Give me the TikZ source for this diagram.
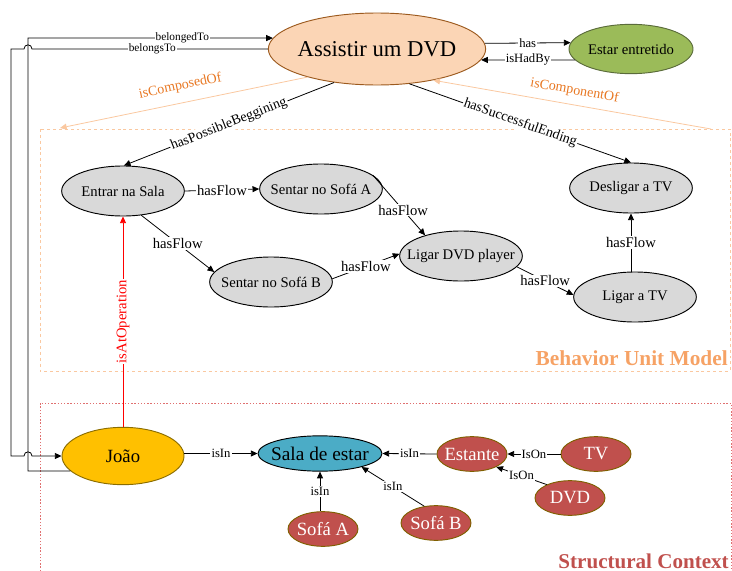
\documentclass[tikz,border=0pt]{standalone}
\usepackage{fontspec}
\setmainfont{Liberation Serif}
\usetikzlibrary{shapes.geometric,
                arrows.meta, % for triangle tips
                calc}

\definecolor{actgray}{HTML}{D9D9D9}
\definecolor{peach}{HTML}{FBD5B5}
\definecolor{peachedge}{HTML}{9C5A1E}
\definecolor{peachline}{HTML}{FAC8A0}
\definecolor{orangetext}{HTML}{E87722}
\definecolor{behavtext}{HTML}{F6A265}
\definecolor{olivegreen}{HTML}{9BBB59}
\definecolor{olivedge}{HTML}{5A6B3A}
\definecolor{gold}{HTML}{FFC000}
\definecolor{goldedge}{HTML}{8B6D00}
\definecolor{skyblue}{HTML}{4BACC6}
\definecolor{thingred}{HTML}{C0504D}
\definecolor{thingedge}{HTML}{7F6000}
\definecolor{structline}{HTML}{E07070}

\newcommand{\ntxt}[1]{\makebox[0pt]{#1}}

\begin{document}
\begin{tikzpicture}[x=0.75pt, y=-0.75pt,
                    Activity/.style={draw, ellipse, line width=0.7pt, inner sep=0pt, fill=actgray,
                                     minimum width=92pt, minimum height=37.5pt, font=\fontsize{11}{13}\selectfont},
                    Thing/.style={draw=thingedge, ellipse, line width=0.7pt, inner sep=0pt, fill=thingred,
                                  text=white, minimum width=52.5pt, minimum height=26pt, font=\fontsize{14}{16}\selectfont},
                    Rel/.style={-{Triangle[length=5pt,width=4.5pt]}, line width=0.6pt},
                    RelLbl/.style={fill=white, inner sep=0.8pt, font=\fontsize{9.5}{11}\selectfont},
                    FlowLbl/.style={RelLbl, font=\fontsize{11}{13}\selectfont},
                    SlopeLbl/.style={RelLbl, sloped, font=\fontsize{10.5}{12}\selectfont}
                    ]
    \useasboundingbox (0,0) rectangle (732,571);

    % FRAMES %
    \draw[peachline, line width=0.6pt, dash pattern=on 2.2pt off 2.2pt] (40,129) rectangle (730,371);
    \draw[structline, line width=0.6pt, dash pattern=on 1pt off 1.4pt] (40,571) -- (40,403) -- (731,403) -- (731,571);
    \node[anchor=east, inner sep=0pt, text=behavtext, font=\fontsize{16}{18}\selectfont\bfseries] (behav) at (728,358) {Behavior Unit Model};
    \node[anchor=east, inner sep=0pt, text=thingred, font=\fontsize{15.8}{18}\selectfont\bfseries] (struct) at (729,561) {Structural Context};

    % GOAL %
    \node[draw=peachedge, ellipse, line width=0.7pt, inner sep=0pt, fill=peach, minimum width=163pt, minimum height=54pt,
          font=\fontsize{17}{20}\selectfont] (Assistir) at (377,49) {\ntxt{Assistir um DVD}};
    \node[draw=olivedge, ellipse, line width=0.7pt, inner sep=0pt, fill=olivegreen, minimum width=93pt, minimum height=37pt,
          font=\fontsize{11}{13}\selectfont] (Estar) at (631,49) {\ntxt{Estar entretido}};

    % ACTIVITIES %
    \node[Activity] (Entrar) at (123,191) {\ntxt{Entrar na Sala}};
    \node[Activity] (SofaA) at (321,189) {\ntxt{Sentar no Sofá A}};
    \node[Activity] (SofaB) at (271,282) {\ntxt{Sentar no Sofá B}};
    \node[Activity] (LigarDVD) at (461,256) {\ntxt{Ligar DVD player}};
    \node[Activity] (Desligar) at (631,188) {\ntxt{Desligar a TV}};
    \node[Activity] (LigarTV) at (635,297) {\ntxt{Ligar a TV}};

    % THINGS %
    \node[draw=goldedge, ellipse, line width=0.7pt, inner sep=0pt, fill=gold, minimum width=91.5pt, minimum height=43pt,
          font=\fontsize{14}{16}\selectfont] (Joao) at (123,456) {\ntxt{João}};
    \node[draw, ellipse, line width=0.7pt, inner sep=0pt, fill=skyblue, minimum width=93pt, minimum height=26.5pt,
          font=\fontsize{14.5}{16}\selectfont] (Sala) at (320,453.5) {\ntxt{Sala de estar}};
    \node[Thing] (Estante) at (472,454) {\ntxt{Estante}};
    \node[Thing] (TV) at (596,454) {\ntxt{TV}};
    \node[Thing] (DVD) at (570,498) {\ntxt{DVD}};
    \node[Thing] (SofaAt) at (323,529) {\ntxt{Sofá A}};
    \node[Thing] (SofaBt) at (436,523) {\ntxt{Sofá B}};

    % GOAL LINKS %
    \draw[Rel] (Assistir.3) -- node[RelLbl] {has} (Estar.174);
    \draw[Rel] (Estar.191) -- node[RelLbl] {isHadBy} (Assistir.354);

    \coordinate (bTop) at (28,38);
    \draw[Rel] (Joao.196) -| (bTop) -- node[RelLbl, pos=0.63, font=\fontsize{8.5}{10}\selectfont] {belongedTo} (Assistir.174);
    \draw[Rel] (Assistir.west) -- node[RelLbl, pos=0.49, font=\fontsize{8.5}{10}\selectfont] {belongsTo} (32,49)
        .. controls (32,43.5) and (24,43.5) .. (24,49) -- (11,49) -- (11,456) -- (24,456)
        .. controls (24,450.5) and (32,450.5) .. (32,456) -- (Joao.west);

    \coordinate (boxNW) at (60,128);
    \coordinate (boxNE) at (711,129);
    \draw[Rel, peachline] (Assistir.202) -- node[midway, sloped, above=4pt, text=orangetext,
          font=\fontsize{10.5}{12}\selectfont] {isComposedOf} (boxNW);
    \draw[Rel, peachline] (boxNE) -- node[midway, sloped, above=2pt, text=orangetext,
          font=\fontsize{10.5}{12}\selectfont] {isComponentOf} (Assistir.331);

    \draw[Rel] (Assistir.218) -- node[SlopeLbl, midway] {hasPossibleBeggining} (Entrar.88);
    \draw[Rel] (Assistir.313) -- node[SlopeLbl, midway] {hasSuccessfulEnding} (Desligar.north);

    % FLOW %
    \draw[Rel] (Entrar.east) -- node[FlowLbl] {hasFlow} (SofaA.west);
    \draw[Rel] (Entrar.307) -- node[FlowLbl] {hasFlow} (SofaB.170);
    \draw[Rel] (SofaA.15) -- node[FlowLbl, pos=0.58] {hasFlow} (LigarDVD.150);
    \draw[Rel] (SofaB.3) -- node[FlowLbl] {hasFlow} (LigarDVD.178);
    \draw[Rel] (LigarDVD.349) -- node[FlowLbl] {hasFlow} (LigarTV.178);
    \draw[Rel] (Desligar.south |- LigarTV.north) -- node[FlowLbl] {hasFlow} (Desligar.south);

    \draw[Rel, red] (Joao.north) -- node[FlowLbl, sloped, midway, text=red] {isAtOperation} (Entrar.south);

    % LOCATION %
    \draw[Rel] (Joao.east |- Sala.west) -- node[RelLbl] {isIn} (Sala.west);
    \draw[Rel] (Estante.west) -- node[RelLbl] {isIn} (Sala.east);
    \draw[Rel] (TV.west) -- node[RelLbl] {IsOn} (Estante.east);
    \draw[Rel] (DVD.150) -- node[RelLbl] {IsOn} (Estante.332);
    \draw[Rel] (Sala.south |- SofaAt.north) -- node[RelLbl] {isIn} (Sala.south);
    \draw[Rel] (SofaBt.125) -- node[RelLbl] {isIn} (Sala.342);

\end{tikzpicture}
\end{document}
